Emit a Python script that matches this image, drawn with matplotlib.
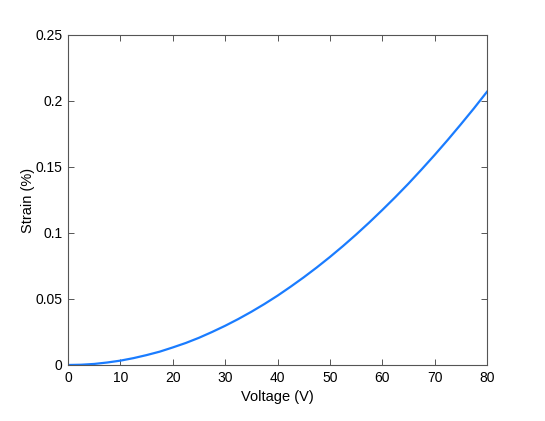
import matplotlib
matplotlib.use("Agg")
import matplotlib.pyplot as plt

voltage = [0, 2.5, 5, 7.5, 10, 12.5, 15, 17.5, 20, 22.5, 25, 27.5, 30, 32.5, 35,
           37.5, 40, 42.5, 45, 47.5, 50, 52.5, 55, 57.5, 60, 62.5, 65, 67.5,
           70, 72.5, 75, 77.5, 80]
strain = [0, 0.0002, 0.0008, 0.0019, 0.0033, 0.0052, 0.0075, 0.0101, 0.0133,
          0.0167, 0.0206, 0.0250, 0.0297, 0.0348, 0.0403, 0.0462, 0.0525, 0.0593,
          0.0664, 0.0739, 0.0818, 0.0901, 0.0988, 0.1079, 0.1174, 0.1272, 0.1374,
          0.1481, 0.1591, 0.1705, 0.1823, 0.1944, 0.2070]
xticks = [0, 10, 20, 30, 40, 50, 60, 70, 80]
yticks = [0, 0.05, 0.1, 0.15, 0.2, 0.25]
yticklabels = ["0", "0.05", "0.1", "0.15", "0.2", "0.25"]

plt.rcParams['font.family'] = ['Liberation Sans', 'DejaVu Sans']
fig = plt.figure(figsize=(5.45, 4.21), dpi=100)
ax = fig.add_axes([68/545, 56/421, (487-68)/545, (365-35)/421])
ax.plot(voltage, strain, color='#1a7cff', lw=1.6)
ax.set_xlim(0, 80)
ax.set_ylim(0, 0.25)
ax.set_xticks(xticks)
ax.set_yticks(yticks)
ax.set_yticklabels(yticklabels)
ax.tick_params(direction='in', top=True, right=True, length=4, width=0.7,
               color='#555555', labelsize=10, labelcolor='black', pad=4)
for s in ax.spines.values():
    s.set_color('#555555')
    s.set_linewidth(0.8)
ax.set_xlabel('Voltage (V)', fontsize=10.5, labelpad=4)
ax.set_ylabel('Strain (%)', fontsize=10.5, labelpad=0)
fig.savefig('out.png', dpi=100, facecolor='white')
